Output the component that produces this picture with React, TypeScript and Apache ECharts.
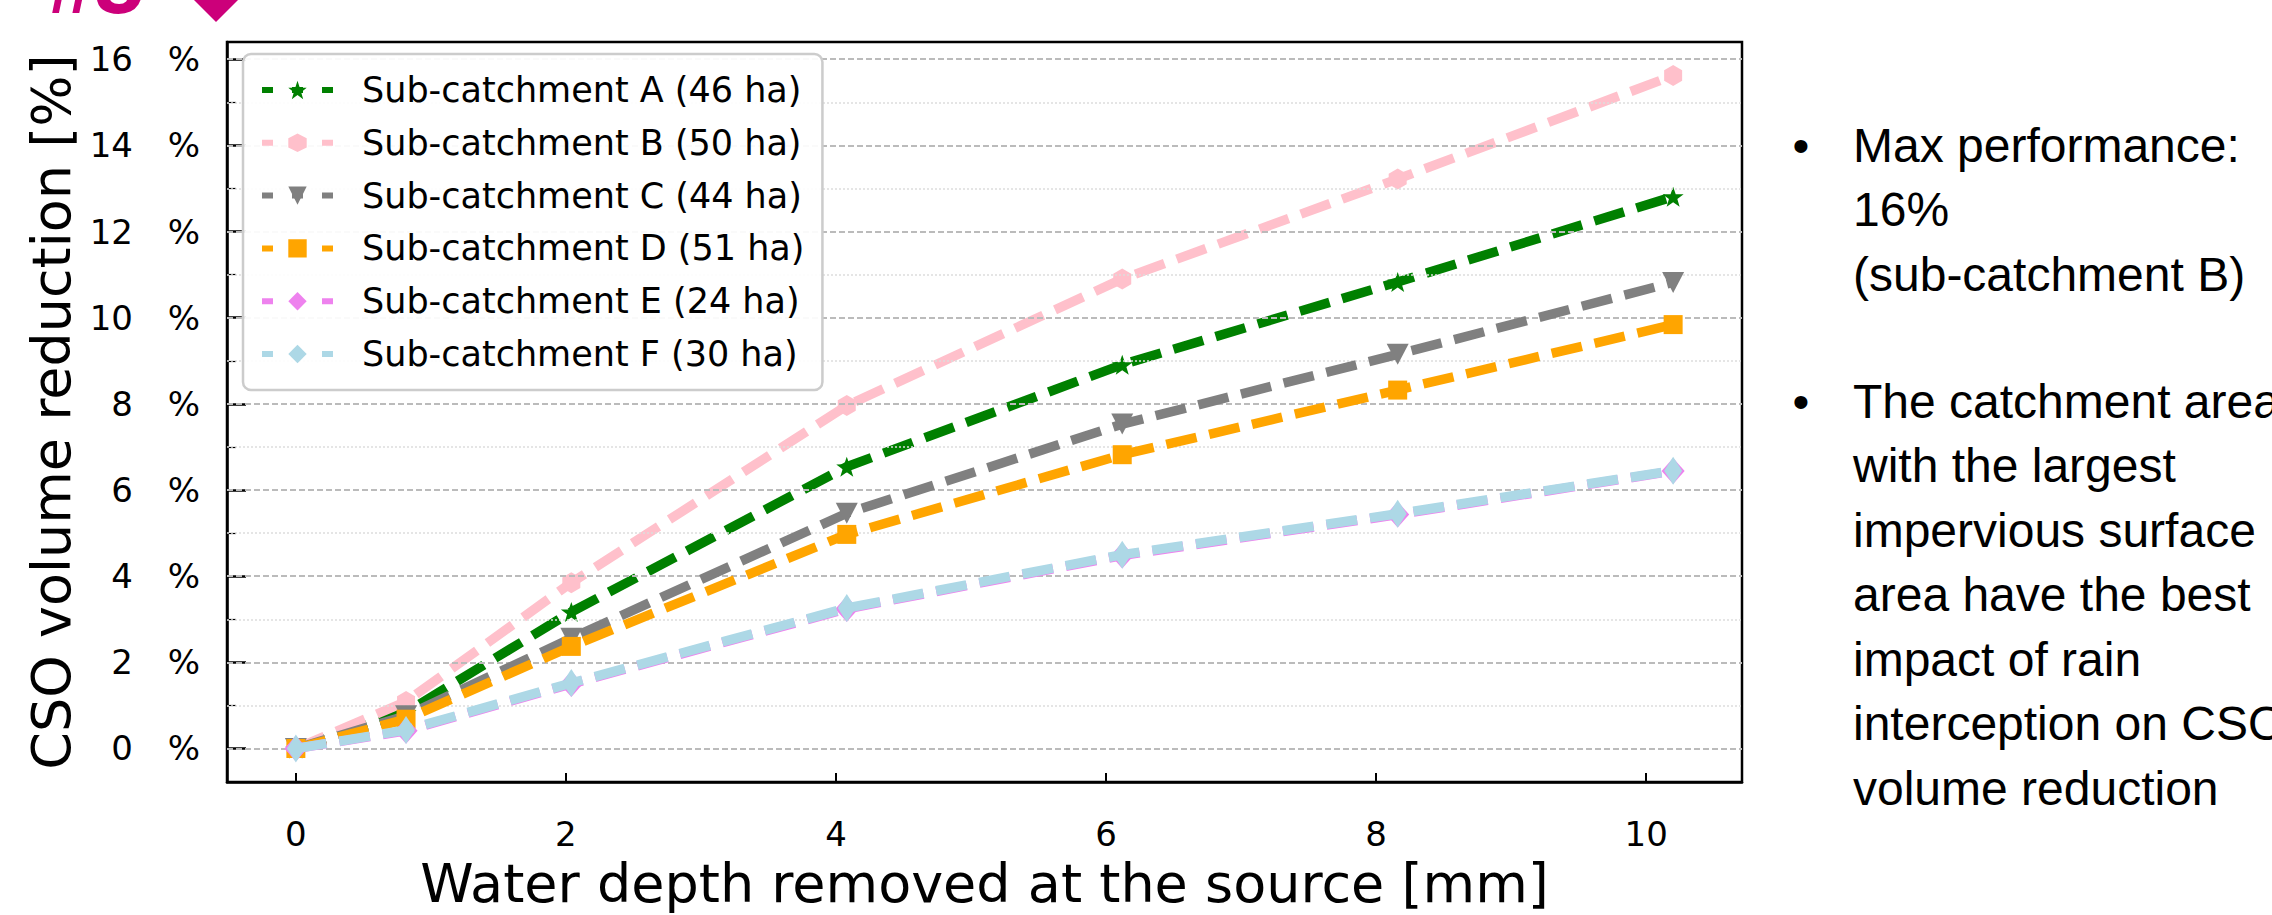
import React, { useEffect, useRef } from 'react';
import * as echarts from 'echarts';

// ---- data ----
const depthMm = [0, 0.816, 2.04, 4.08, 6.12, 8.16, 10.2];
const seriesNames = [
  'Sub-catchment A (46 ha)',
  'Sub-catchment B (50 ha)',
  'Sub-catchment C (44 ha)',
  'Sub-catchment D (51 ha)',
  'Sub-catchment E (24 ha)',
  'Sub-catchment F (30 ha)',
];
const subA = [0, 0.84, 3.17, 6.54, 8.91, 10.83, 12.81];
const subB = [0, 1.09, 3.85, 7.96, 10.9, 13.22, 15.62];
const subC = [0, 0.76, 2.56, 5.46, 7.53, 9.15, 10.82];
const subD = [0, 0.68, 2.37, 4.97, 6.82, 8.32, 9.84];
const subE = [0, 0.41, 1.5, 3.24, 4.48, 5.43, 6.44];
const subF = [0, 0.43, 1.52, 3.26, 4.5, 5.45, 6.45];
const xTicks = [0, 2, 4, 6, 8, 10];
const yTicks = [0, 2, 4, 6, 8, 10, 12, 14, 16];
const yMinorTicks = [1, 3, 5, 7, 9, 11, 13, 15];
const bulletOne = 'Max performance:\n16%\n(sub-catchment B)';
const bulletTwo =
  'The catchment area\nwith the largest\nimpervious surface\narea have the best\nimpact of rain\ninterception on CSO\nvolume reduction';

const STAR =
  'path://M0,-10L2.35,-3.24L9.51,-3.09L3.8,1.24L5.88,8.09L0,4L-5.88,8.09L-3.8,1.24L-9.51,-3.09L-2.35,-3.24Z';
const HEXAGON = 'path://M0,-10L8.66,-5L8.66,5L0,10L-8.66,5L-8.66,-5Z';

const FONT = 'DejaVu Sans';
const MAGENTA = '#CC007A';

export default function App() {
  const ref = useRef<HTMLDivElement>(null);

  useEffect(() => {
    if (!ref.current) return;
    const chart = echarts.init(ref.current, null, { renderer: 'svg' });

    const pairs = (ys: number[]) => depthMm.map((x, i) => [x, ys[i]]);
    const lineStyle = (color: string) => ({ color, width: 9.5, type: [31, 13], cap: 'butt' });

    const defs = [
      { ys: subA, color: '#008000', symbol: STAR, size: [21, 20] },
      { ys: subB, color: '#FFC0CB', symbol: HEXAGON, size: [18, 21] },
      { ys: subC, color: '#808080', symbol: 'triangle', size: [22, 21], rotate: 180 },
      { ys: subD, color: '#FFA500', symbol: 'rect', size: [19, 19] },
      { ys: subE, color: '#EE82EE', symbol: 'diamond', size: [23, 26] },
      { ys: subF, color: '#ADD8E6', symbol: 'diamond', size: [18, 28] },
    ];

    const lineSeries = defs.map((d, i) => ({
      name: seriesNames[i],
      type: 'line',
      data: pairs(d.ys),
      xAxisIndex: 0,
      yAxisIndex: 0,
      symbol: d.symbol,
      symbolSize: d.size,
      symbolRotate: d.rotate || 0,
      showSymbol: true,
      itemStyle: { color: d.color },
      lineStyle: lineStyle(d.color),
      z: 3 + i,
      emphasis: { disabled: true },
    }));

    const gridSeries = {
      type: 'line',
      data: [],
      xAxisIndex: 0,
      yAxisIndex: 0,
      silent: true,
      z: 1,
      markLine: {
        silent: true,
        symbol: ['none', 'none'],
        label: { show: false },
        emphasis: { disabled: true },
        data: [
          ...yTicks.map((v) => ({
            yAxis: v,
            lineStyle: { color: '#bbbbbb', width: 2, type: [6, 3] },
          })),
          ...yMinorTicks.map((v) => ({
            yAxis: v,
            lineStyle: { color: '#dddddd', width: 1.5, type: [2, 2] },
          })),
        ],
      },
    };

    const textBase = { fontFamily: FONT, color: '#000' };

    const option = {
      animation: false,
      backgroundColor: '#ffffff',
      grid: {
        left: 227,
        right: 530,
        top: 42,
        bottom: 120,
        show: true,
        borderColor: '#000',
        borderWidth: 2.5,
        backgroundColor: 'transparent',
      },
      xAxis: [
        {
          type: 'value',
          min: -0.51,
          max: 10.71,
          name: 'Water depth removed at the source [mm]',
          nameLocation: 'middle',
          nameGap: 73,
          nameTextStyle: { ...textBase, fontSize: 54 },
          axisLine: { show: true, onZero: false, lineStyle: { color: '#000', width: 2.5 } },
          axisTick: {
            show: true,
            inside: true,
            length: 9,
            lineStyle: { color: '#000', width: 2 },
            customValues: xTicks,
          },
          axisLabel: { ...textBase, fontSize: 34, margin: 35, customValues: xTicks },
          splitLine: { show: false },
        },
      ],
      yAxis: [
        {
          type: 'value',
          min: -0.78,
          max: 16.4,
          name: 'CSO volume reduction [%]',
          nameLocation: 'middle',
          nameGap: 144,
          nameTextStyle: { ...textBase, fontSize: 54 },
          axisLine: { show: true, onZero: false, lineStyle: { color: '#000', width: 2.5 } },
          axisTick: {
            show: true,
            inside: true,
            length: 19,
            lineStyle: { color: '#000', width: 2.5 },
            customValues: yTicks,
          },
          axisLabel: {
            margin: 27,
            customValues: yTicks,
            formatter: (v: number) => `{n|${v}}{p|%}`,
            rich: {
              n: { ...textBase, fontSize: 34, width: 44, align: 'right' },
              p: { ...textBase, fontSize: 34, width: 67, align: 'right' },
            },
          },
          splitLine: { show: false },
        },
        {
          type: 'value',
          min: -0.78,
          max: 16.4,
          position: 'left',
          axisLine: { show: false, onZero: false },
          axisTick: {
            show: true,
            inside: true,
            length: 9,
            lineStyle: { color: '#000', width: 1.2 },
            customValues: yMinorTicks,
          },
          axisLabel: { show: false },
          splitLine: { show: false },
        },
      ],
      legend: {
        data: seriesNames,
        orient: 'vertical',
        left: 243,
        top: 54,
        padding: [16, 18, 16, 16],
        itemGap: 12.8,
        itemWidth: 71,
        itemHeight: 23,
        backgroundColor: 'rgba(255,255,255,0.92)',
        borderColor: '#cccccc',
        borderWidth: 2.5,
        borderRadius: 8,
        selectedMode: false,
        textStyle: { ...textBase, fontSize: 35, lineHeight: 40, padding: [0, 0, 0, 24] },
        lineStyle: { width: 6, type: [11, 19], cap: 'butt' },
        z: 10,
      },
      graphic: [
        {
          type: 'text',
          x: 46,
          y: -18,
          style: {
            text: '#3',
            fill: MAGENTA,
            fontFamily: 'Liberation Sans',
            fontSize: 90,
            fontWeight: 'bold',
            fontStyle: 'italic',
            verticalAlign: 'middle',
            align: 'left',
          },
        },
        {
          type: 'polygon',
          shape: { points: [[216, -30], [242, -4], [216, 22], [190, -4]] },
          style: { fill: MAGENTA },
        },
        {
          type: 'text',
          x: 1801,
          y: 145,
          style: {
            text: '•',
            fill: '#000',
            fontFamily: 'Liberation Sans',
            fontSize: 48,
            align: 'center',
            verticalAlign: 'middle',
          },
        },
        {
          type: 'text',
          x: 1853,
          y: 112.8,
          style: {
            text: bulletOne,
            fill: '#000',
            fontFamily: 'Liberation Sans',
            fontSize: 48,
            lineHeight: 64.5,
            align: 'left',
            verticalAlign: 'top',
          },
        },
        {
          type: 'text',
          x: 1801,
          y: 401.4,
          style: {
            text: '•',
            fill: '#000',
            fontFamily: 'Liberation Sans',
            fontSize: 48,
            align: 'center',
            verticalAlign: 'middle',
          },
        },
        {
          type: 'text',
          x: 1853,
          y: 369.2,
          style: {
            text: bulletTwo,
            fill: '#000',
            fontFamily: 'Liberation Sans',
            fontSize: 48,
            lineHeight: 64.5,
            align: 'left',
            verticalAlign: 'top',
          },
        },
      ],
      series: [gridSeries, ...lineSeries],
    };

    chart.setOption(option as any);
    return () => chart.dispose();
  }, []);

  return (
    <div
      ref={ref}
      style={{ position: 'fixed', left: 0, top: 0, width: '2272px', height: '915px', background: '#fff' }}
    />
  );
}
